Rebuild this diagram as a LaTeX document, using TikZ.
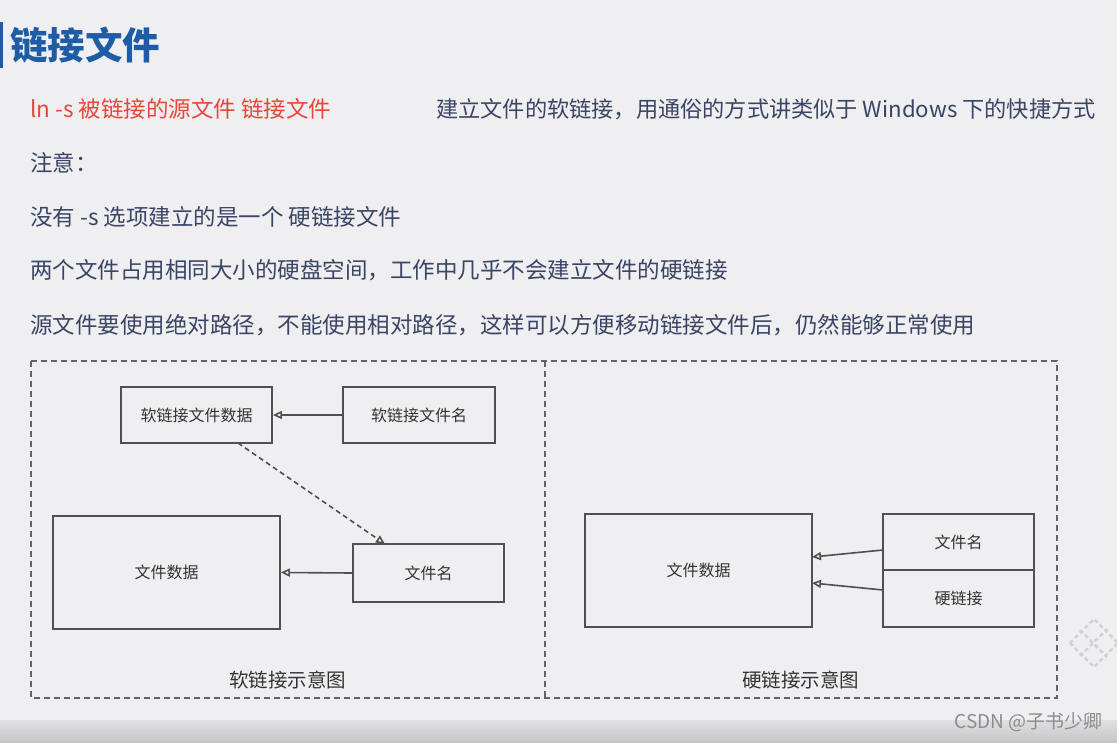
\documentclass[tikz,border=0pt]{standalone}
\usepackage{fontspec}
\setmainfont{Noto Sans CJK SC}
\usetikzlibrary{arrows.meta}
\definecolor{bg}{RGB}{239,239,241}
\definecolor{titleblue}{RGB}{30,92,165}
\definecolor{redtxt}{RGB}{232,70,58}
\definecolor{bodytxt}{RGB}{58,68,100}
\definecolor{linegray}{RGB}{80,80,80}
\definecolor{dashgray}{RGB}{100,100,100}
\definecolor{banda}{RGB}{224,224,226}
\definecolor{bandb}{RGB}{198,198,200}
\definecolor{patgray}{RGB}{210,210,212}
\tikzset{
  body/.style={anchor=west, text=bodytxt, font=\fontsize{22.5}{26}\selectfont, inner sep=0pt},
  filebox/.style={draw=linegray, line width=1.8pt, inner sep=0pt, font=\fontsize{16}{19}\selectfont, text=black!80},
  caption/.style={font=\fontsize{19.5}{23}\selectfont, text=black!80},
  oarrow/.style={draw=linegray, line width=1.6pt, -{Triangle[open, length=9pt, width=8pt]}},
  dashbox/.style={draw=dashgray, line width=1.6pt, dash pattern=on 6pt off 4pt},
  patline/.style={draw=patgray, line width=2.5pt, dash pattern=on 4pt off 3pt}
}
\begin{document}
\begin{tikzpicture}[x=1pt,y=-1pt]
\fill[bg] (0,0) rectangle (1117,742);
\useasboundingbox (0,0) rectangle (1117,742);
\shade[top color=banda, bottom color=bandb] (0,720) rectangle (1117,742);
% title
\fill[titleblue] (0,22) rectangle (3,68);
\node[anchor=west, inner sep=0pt, text=titleblue, font=\fontsize{37.5}{42}\selectfont\bfseries] (title) at (10,45) {链接文件};
% text lines
\node[anchor=west, inner sep=0pt, text=redtxt, font=\fontsize{22.5}{26}\selectfont] (cmd) at (30,109) {ln -s 被链接的源文件 链接文件};
\node[body, font=\fontsize{22.2}{26}\selectfont] (desc) at (436,109) {建立文件的软链接，用通俗的方式讲类似于 Windows 下的快捷方式};
\node[body] (note) at (30,163) {注意：};
\node[body] (l1) at (30,217) {没有 -s 选项建立的是一个 硬链接文件};
\node[body] (l2) at (30,270) {两个文件占用相同大小的硬盘空间，工作中几乎不会建立文件的硬链接};
\node[body] (l3) at (30,325) {源文件要使用绝对路径，不能使用相对路径，这样可以方便移动链接文件后，仍然能够正常使用};
% outer dashed frames
\draw[dashbox] (31,361) rectangle (1057,698);
\draw[dashbox] (545,361) -- (545,698);
% soft link diagram
\node[filebox, minimum width=151pt, minimum height=56pt] (sdata) at (196.5,415) {软链接文件数据};
\node[filebox, minimum width=152pt, minimum height=56pt] (sname) at (419,415) {软链接文件名};
\node[filebox, minimum width=227pt, minimum height=113pt] (fdata) at (166.5,572.5) {文件数据};
\node[filebox, minimum width=151pt, minimum height=58pt] (fname) at (428.5,573) {文件名};
\draw[oarrow] (sname.west) -- (sdata.east);
\draw[oarrow] (fname.west) -- (fdata.east);
\coordinate (dstart) at (238,443);
\coordinate (dend) at (385,544);
\draw[oarrow, dash pattern=on 5pt off 3.5pt] (dstart) -- (dend);
\node[caption] (scap) at (287.5,680) {软链接示意图};
% hard link diagram
\node[filebox, minimum width=227pt, minimum height=113pt] (hdata) at (698.5,570.5) {文件数据};
\node[filebox, minimum width=151pt, minimum height=56pt] (hname) at (958.5,542) {文件名};
\node[filebox, minimum width=151pt, minimum height=57pt] (hlink) at (958.5,598.5) {硬链接};
\coordinate (h1s) at (883,550);
\coordinate (h1e) at (812,557);
\coordinate (h2s) at (883,590);
\coordinate (h2e) at (812,583);
\draw[oarrow] (h1s) -- (h1e);
\draw[oarrow] (h2s) -- (h2e);
\node[caption] (hcap) at (800.5,680) {硬链接示意图};
% faint decorative pattern
\draw[patline] (1070,643) -- (1094,619) -- (1117,642);
\draw[patline] (1070,643) -- (1094,667) -- (1117,644);
\draw[patline] (1080,630) -- (1107,657);
\draw[patline] (1080,656) -- (1107,629);
% watermark
\node[anchor=east, inner sep=0pt, text=black!45, font=\fontsize{19}{22}\selectfont] (wm) at (1103,722) {CSDN @子书少卿};
\end{tikzpicture}
\end{document}
